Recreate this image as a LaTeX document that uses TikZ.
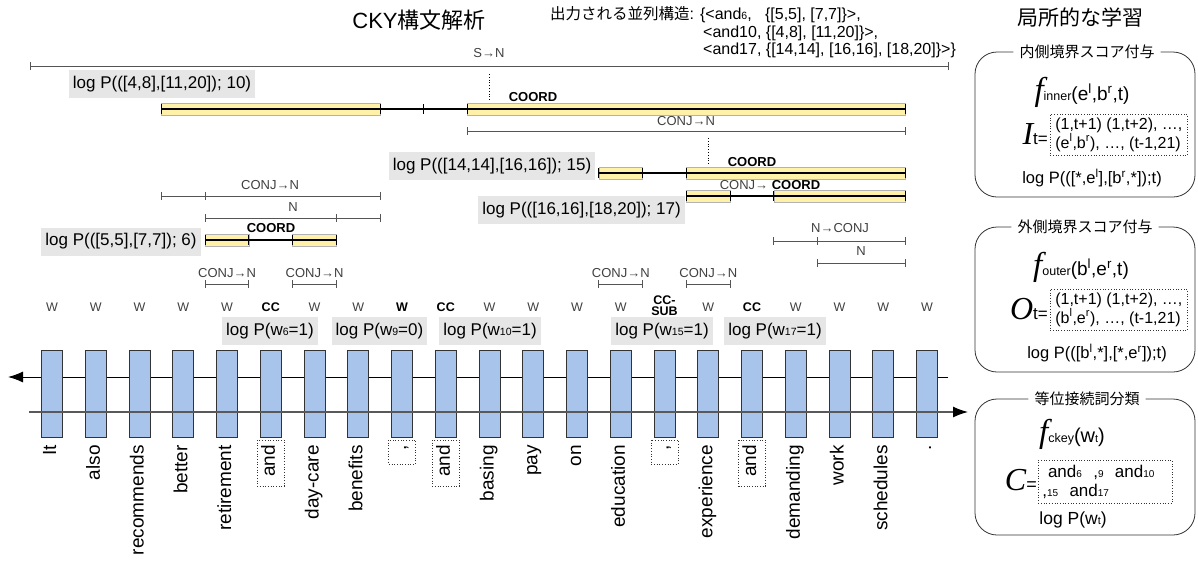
\documentclass[tikz,border=0pt]{standalone}
\usepackage{fontspec}
\setmainfont{Liberation Sans}
\newfontfamily\cjk{Noto Sans CJK JP}
\newfontfamily\tms{Liberation Serif}
\usetikzlibrary{arrows.meta}
\definecolor{bluebox}{HTML}{A9C4EB}
\definecolor{yel}{HTML}{FFF2A8}
\definecolor{lbg}{HTML}{E6E6E6}
\definecolor{spg}{HTML}{555555}
\newcommand\fs[1]{\fontsize{#1}{#1}\selectfont}
\newcommand\bnd[1]{30.125+43.75*(#1)}
\newcommand\cx[1]{8.25+43.75*(#1)}
\newcommand\sbx[1]{{\fs{10.5}#1}}
\newcommand\gspan[4]{%
  \draw[spanl] ({\bnd{#2}},#1) -- ({\bnd{#3}},#1);
  \foreach \k in {#4}{\draw[spanl] ({\bnd{\k}},#1-4) -- ({\bnd{\k}},#1+4);}}
\newcommand\cspan[5]{%
  \foreach \ya/\yb in {#2}{\draw[ybx] ({\bnd{\ya}},#1-6) rectangle ({\bnd{\yb}},#1+6);}
  \draw[clk] ({\bnd{#3}},#1) -- ({\bnd{#4}},#1);
  \foreach \k in {#5}{\draw[black,line width=1pt] ({\bnd{\k}},#1-5) -- ({\bnd{\k}},#1+5);}}
\begin{document}
\begin{tikzpicture}[x=1pt,y=-1pt,
  spanl/.style={draw=spg,line width=0.9pt},
  clk/.style={draw=black,line width=1.6pt},
  ybx/.style={fill=yel,draw=black!30,line width=0.6pt},
  tok/.style={fill=bluebox,draw=black!80,line width=0.8pt},
  lab/.style={text=black!75,font=\fs{13},inner sep=0pt},
  blab/.style={font=\bfseries\fs{13},inner sep=0pt},
  lbox/.style={fill=lbg,inner xsep=4pt,inner ysep=0pt,minimum height=28pt,font=\fs{17}},
  word/.style={rotate=90,anchor=base east,font=\fs{19},inner sep=0pt},
  dbox/.style={draw=black!80,dotted,line width=0.7pt},
  panel/.style={draw=black!80,line width=0.8pt,rounded corners=22pt},
  plab/.style={fill=white,font=\cjk\fs{15},inner xsep=6pt,inner ysep=1pt},
  pt/.style={inner sep=0pt}]
\useasboundingbox (0,0) rectangle (1198,563);

% titles
\node[font=\fs{22}] (title1) at (419,20) {CKY{\cjk 構文解析}};
\node[font=\cjk\fs{21}] (title2) at (1080,17) {局所的な学習};
\node[anchor=west,font=\fs{16},inner sep=0pt] (out1) at (550,15) {{\cjk\fs{15.5}出力される並列構造}: \{<and\sbx{6},\ \ \ \{[5,5], [7,7]\}>,};
\node[anchor=west,font=\fs{16},inner sep=0pt] (out2) at (703,33) {<and10, \{[4,8], [11,20]\}>,};
\node[anchor=west,font=\fs{16},inner sep=0pt] (out3) at (703,50) {<and17, \{[14,14], [16,16], [18,20]\}>\}};

% spans
\gspan{66}{0}{21}{0,21}
\node[lab] (sn) at (489,53) {S→N};
\coordinate (dA) at (489,74); \coordinate (dB) at (489,100);
\draw[dotted,line width=0.8pt] (dA) -- (dB);
\cspan{109}{3/8,10/20}{3}{20}{3,8,9,10,20}
\node[blab] (co1) at (533,97) {COORD};
\gspan{131}{10}{20}{10,20}
\node[lab] (cn1) at (686,121) {CONJ→N};
\coordinate (dC) at (708,138); \coordinate (dD) at (708,165);
\draw[dotted,line width=0.8pt] (dC) -- (dD);
\cspan{173}{13/14,15/20}{13}{20}{13,14,15,20}
\node[blab] (co2) at (752,162) {COORD};
\cspan{196}{15/16,17/20}{15}{20}{15,16,17,20}
\node[lab] (cc3) at (770,185) {CONJ→ \textcolor{black}{\bfseries COORD}};
\gspan{196}{3}{8}{3,4,8}
\node[lab] (cn2) at (270,185) {CONJ→N};
\gspan{218}{4}{8}{4,7,8}
\node[lab] (n1) at (293,207) {N};
\cspan{240}{4/5,6/7}{4}{7}{4,5,6,7}
\node[blab] (co4) at (271,228) {COORD};
\gspan{241}{17}{20}{17,18,20}
\node[lab] (nc) at (840,228) {N→CONJ};
\gspan{263}{18}{20}{18,20}
\node[lab] (n2) at (861,251) {N};
\gspan{284}{4}{5}{4,5}
\gspan{284}{6}{7}{6,7}
\gspan{284}{13}{14}{13,14}
\gspan{284}{15}{16}{15,16}
\foreach \i in {5,7,14,16}{\node[lab] (sc\i) at ({\cx{\i}},273) {CONJ→N};}

% log P boxes
\node[lbox] (p10) at (162,84) {log P(([4,8],[11,20]); 10)};
\node[lbox] (p15) at (492,166) {log P(([14,14],[16,16]); 15)};
\node[lbox] (p17) at (581.5,210) {log P(([16,16],[18,20]); 17)};
\node[lbox] (p6) at (121,241.5) {log P(([5,5],[7,7]); 6)};
\node[lbox] (pw6) at (270,331) {log P(w\sbx{6}=1)};
\node[lbox] (pw9) at (379.5,331) {log P(w\sbx{9}=0)};
\node[lbox] (pw10) at (490,331) {log P(w\sbx{10}=1)};
\node[lbox] (pw15) at (662,331) {log P(w\sbx{15}=1)};
\node[lbox] (pw17) at (775,331) {log P(w\sbx{17}=1)};

% tag row
\foreach \i in {1,2,3,4,5,7,8,11,12,13,14,16,18,19,20,21}{\node[lab,font=\fs{12.5}] (tg\i) at ({\cx{\i}},307) {W};}
\node[blab,font=\bfseries\fs{12.5}] (tg9) at ({\cx{9}},307) {W};
\foreach \i in {6,10,17}{\node[blab,font=\bfseries\fs{12.5}] (tg\i) at ({\cx{\i}},307) {CC};}
\node[blab,font=\bfseries\fs{12.5},align=center] (tg15) at ({\cx{15}},305.5) {CC-\\[-1.5pt]SUB};

% recurrent lines and tokens
\coordinate (la0) at (948,377); \coordinate (la1) at (8,377);
\draw[line width=1pt,-{Latex[length=15pt,width=11pt]}] (la0) -- (la1);
\foreach \i in {1,...,21}{\draw[tok] ({\cx{\i}-10.5},350) rectangle ({\cx{\i}+10.5},437);}
\coordinate (ra0) at (29,412); \coordinate (ra1) at (968,412);
\draw[draw=black!65,line width=1.2pt,-{Latex[length=15pt,width=11pt,color=black]}] (ra0) -- (ra1);

% words
\foreach \w [count=\i] in {It,also,recommends,better,retirement,and,day-care,benefits,{,},and,basing,pay,on,education,{,},experience,and,demanding,work,schedules,.}{
  \node[word] (wd\i) at ({\cx{\i}+4},445) {\w};}
\foreach \i in {6,10,17}{\draw[dbox] ({\cx{\i}-13.5},440) rectangle ({\cx{\i}+13.5},486);}
\foreach \i in {9,15}{\draw[dbox] ({\cx{\i}-13.5},440) rectangle ({\cx{\i}+13.5},464);}

% panel 1
\node[plab] (pl1) at (1087,52) {内側境界スコア付与};
\draw[panel] (pl1.east) -- (1195,52) -- (1195,197) -- (975,197) -- (975,52) -- (pl1.west);
\node[pt] (f1) at (1082,92) {{\tms\itshape\fs{33}f}{\fs{12.5}inner}{\fs{19}(e\textsuperscript{l},b\textsuperscript{r},t)}};
\node[pt,anchor=east] (it1) at (1048,134) {{\tms\itshape\fs{32}I}{\fs{17}t=}};
\node[dbox,anchor=west,align=left,font=\fontsize{16}{19}\selectfont,minimum width=137pt,minimum height=41pt,inner sep=2.5pt] (db1) at (1050,134.5) {(1,t+1) (1,t+2), …,\\(e\textsuperscript{l},b\textsuperscript{r}), …, (t-1,21)};
\node[pt,font=\fs{16.5}] (lp1) at (1092,178) {log P(([*,e\textsuperscript{l}],[b\textsuperscript{r},*]);t)};

% panel 2
\node[plab] (pl2) at (1085,227) {外側境界スコア付与};
\draw[panel] (pl2.east) -- (1195,227) -- (1195,372) -- (975,372) -- (975,227) -- (pl2.west);
\node[pt] (f2) at (1081,267) {{\tms\itshape\fs{33}f}{\fs{12.5}outer}{\fs{19}(b\textsuperscript{l},e\textsuperscript{r},t)}};
\node[pt,anchor=east] (ot2) at (1048,309) {{\tms\itshape\fs{32}O}{\fs{17}t=}};
\node[dbox,anchor=west,align=left,font=\fontsize{16}{19}\selectfont,minimum width=137pt,minimum height=41pt,inner sep=2.5pt] (db2) at (1050,309.5) {(1,t+1) (1,t+2), …,\\(b\textsuperscript{l},e\textsuperscript{r}), …, (t-1,21)};
\node[pt,font=\fs{16.5}] (lp2) at (1097,353) {log P(([b\textsuperscript{l},*],[*,e\textsuperscript{r}]);t)};

% panel 3
\node[plab] (pl3) at (1087,399) {等位接続詞分類};
\draw[panel] (pl3.east) -- (1195,399) -- (1195,535) -- (975,535) -- (975,399) -- (pl3.west);
\node[pt] (f3) at (1072,434) {{\tms\itshape\fs{33}f}{\fs{12.5}ckey}{\fs{20}(w}{\fs{11}t}{\fs{20})}};
\node[pt,anchor=east] (c3) at (1037,480) {{\tms\itshape\fs{32}C}{\fs{18}=}};
\node[dbox,anchor=west,align=left,text width=126pt,font=\fontsize{17}{19}\selectfont,minimum height=43pt,inner sep=4pt] (db3) at (1038,481.5) {\ and{\fs{10}6}\ \ ,{\fs{10}9}\ \ and{\fs{10}10}\\,{\fs{10}15}\ \ and{\fs{10}17}};
\node[pt,font=\fs{17.5}] (lp3) at (1073,520) {log P(w{\fs{11}t})};
\end{tikzpicture}
\end{document}
